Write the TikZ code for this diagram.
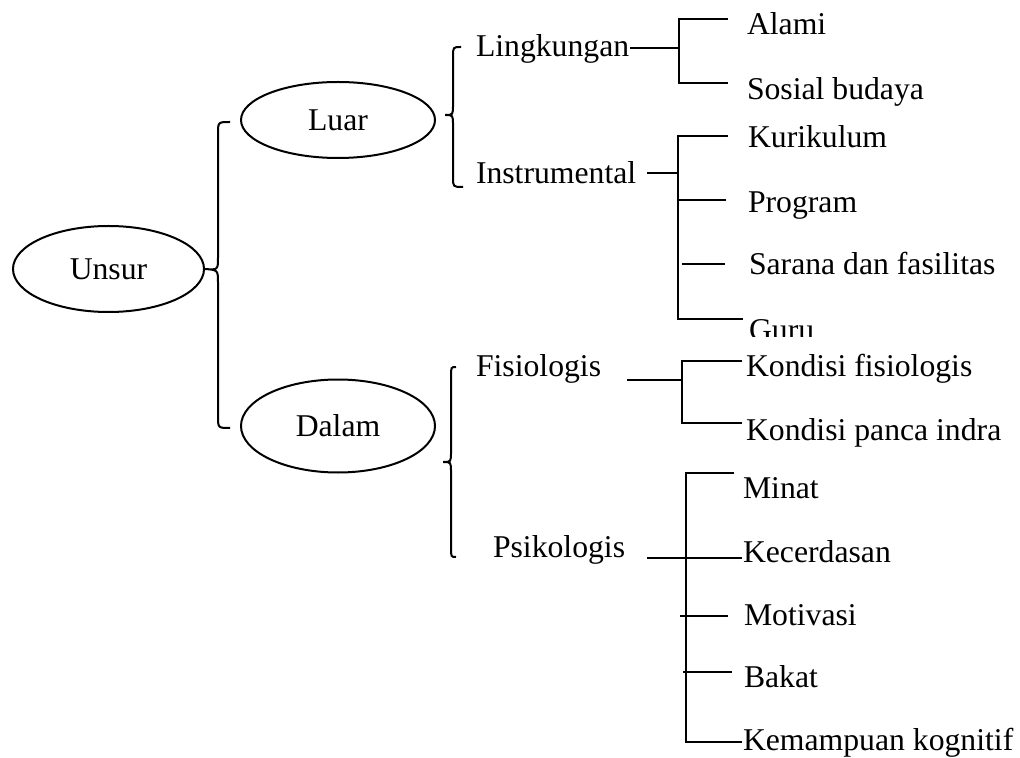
\documentclass[tikz,border=0pt]{standalone}
\usepackage{fontspec}
\setmainfont{Liberation Serif}
\usetikzlibrary{shapes.geometric}
\begin{document}
\begin{tikzpicture}[x=0.5pt,y=-0.5pt, line width=1pt,
  lbl/.style={anchor=base west, inner sep=0pt, font=\fontsize{15.85}{19}\selectfont},
  oval/.style={draw, ellipse, inner sep=0pt, minimum width=97pt, font=\fontsize{15.85}{19}\selectfont}]
\useasboundingbox (0,0) rectangle (1020,758);

% ellipses
\node[oval, minimum width=95.5pt, minimum height=43pt] (unsur) at (108.5,269) {Unsur};
\node[oval, minimum height=38pt] (luar) at (338,120) {Luar};
\node[oval, minimum height=46.5pt] (dalam) at (338,426) {Dalam};

% brace from Unsur
\draw (230,122) .. controls (218,122) .. (218,134) -- (218,257)
  .. controls (218,270) .. (unsur.east) .. controls (218,270) .. (218,283)
  -- (218,416) .. controls (218,428) .. (230,428);

% brace from Luar
\draw (461,47) .. controls (453,47) .. (453,57) -- (453,105)
  .. controls (453,115) .. (445,115) .. controls (453,115) .. (453,125)
  -- (453,177) .. controls (453,187) .. (463,187);

% brace from Dalam
\draw (456,367) .. controls (451,367) .. (451,377) -- (451,452)
  .. controls (451,462) .. (443,462) .. controls (451,462) .. (451,472)
  -- (451,547) .. controls (451,557) .. (456,557);

% ---------- Lingkungan ----------
\node[lbl] (ling) at (475,57) {Lingkungan};
\node[lbl] (alami) at (746,35) {Alami};
\node[lbl] (sosial) at (746,100) {Sosial budaya};
\coordinate (lj) at (679,48);
\coordinate (la) at (728,19);
\coordinate (lb) at (728,83);
\draw (ling.east |- lj) -- (lj);
\draw (la) -- (la -| lj) -- (lb -| lj) -- (lb);

% ---------- Instrumental ----------
\node[lbl] (instr) at (475,184) {Instrumental};
\node[lbl] (kur) at (747,148) {Kurikulum};
\node[lbl] (prog) at (747,213) {Program};
\node[lbl] (sar) at (748,275) {Sarana dan fasilitas};
\begin{scope}
  \clip (700,300) rectangle (900,337);
  \node[lbl] (guru) at (748,341) {Guru};
\end{scope}
\coordinate (i0) at (647,173);
\coordinate (ij) at (678,173);
\coordinate (ik) at (728,136);
\coordinate (ip) at (726,200);
\coordinate (is) at (725,264);
\coordinate (ig) at (743,319);
\draw (i0) -- (ij);
\draw (ik) -- (ik -| ij) -- (ig -| ij) -- (ig);
\draw (ip -| ij) -- (ip);
\draw (682,264) -- (is);

% ---------- Fisiologis ----------
\node[lbl] (fis) at (475,377) {Fisiologis};
\node[lbl] (kf) at (745,377) {Kondisi fisiologis};
\node[lbl] (kp) at (745,440) {Kondisi panca indra};
\coordinate (f0) at (627,380);
\coordinate (fj) at (682,380);
\coordinate (fa) at (742,361);
\coordinate (fb) at (742,423);
\draw (f0) -- (fj);
\draw (fa) -- (fa -| fj) -- (fb -| fj) -- (fb);

% ---------- Psikologis ----------
\node[lbl] (psi) at (492,557) {Psikologis};
\node[lbl] (minat) at (742,498) {Minat};
\node[lbl] (kec) at (742,562) {Kecerdasan};
\node[lbl] (mot) at (743,625) {Motivasi};
\node[lbl] (bak) at (743,687) {Bakat};
\node[lbl] (kem) at (742,750) {Kemampuan kognitif};
\coordinate (p0) at (647,558);
\coordinate (pj) at (686,558);
\coordinate (pm) at (734,473);
\coordinate (pk) at (742,742);
\coordinate (pmo) at (728,616);
\coordinate (pb) at (732,672);
\draw (p0) -- (kec.west |- p0);
\draw (pm) -- (pm -| pj) -- (pk -| pj) -- (pk);
\draw (680,616) -- (pmo);
\draw (683,672) -- (pb);
\end{tikzpicture}
\end{document}
